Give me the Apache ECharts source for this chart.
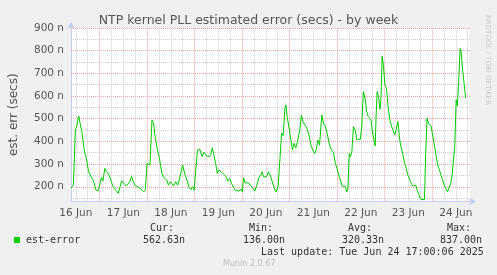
<!DOCTYPE html>
<html><head><meta charset="utf-8">
<script src="https://cdn.jsdelivr.net/npm/echarts@6/dist/echarts.min.js"></script>
<style>html,body{margin:0;padding:0;background:#f0f0f0}#c{width:497px;height:275px}</style>
</head><body><div id="c"></div>
<script>
// hours since 16 Jun 2025 00:00
const hours = [9.6,10.8,11.8,12.5,13.5,14.2,15.2,16.3,17.5,18.5,19.7,20.8,22.2,23.3,24.3,25,25.7,26.7,27.7,28.8,30,31,32.2,33.5,34.2,35.2,36.3,37.5,38.5,39.3,40.2,40.8,41.8,42.8,43.8,45.2,46.3,47.2,48,48.8,49.5,50.5,51.3,52.2,53.3,54.3,55.5,56.5,57.2,58,58.8,59.8,60.5,61.5,62.5,63.5,64.3,65.2,66,67.2,68.2,69.2,70.2,71,71.8,72.7,73.5,74.7,75.8,76.8,77.7,78.5,79.3,80.2,81,81.8,82.7,83.5,84.3,85.5,86.8,88,88.8,89.8,90.7,91.5,92.5,93.5,94.5,95.5,96.2,96.8,97.5,98.5,99.5,100.5,101.5,102.5,103.5,104.5,105.5,106.2,106.8,107.7,108.5,109.3,110.2,111.2,112.2,113.2,114.2,115.2,116,116.8,117.7,118.2,118.8,119.8,120.7,121.5,122.3,123.2,124.2,125.2,126,126.8,127.8,128.8,129.8,131,131.8,132.7,133.5,134.3,135.2,136.3,137.2,138.2,139.2,140.2,141.2,142.2,143.2,144,144.8,145.7,146.5,147.3,148.2,149,149.5,150.2,150.8,151.5,152.3,153.2,154,154.8,155.8,156.5,157.3,158.2,159,159.8,160.7,161.2,161.8,162.7,163.3,163.8,164.3,165,165.7,166.2,166.8,167.5,168.2,169,169.8,170.7,171.5,172.3,173.2,174,174.8,175.7,176.5,177.3,178.2,179,179.8,180.7,181.5,182.3,183.2,183.8,184.5,185.2,185.8,186.5,187.3,188.2,188.8,189.5,190.2,190.8,191.5,192.3,193.2,194,194.8,195.7,196.5,197.3,198.2,199,199.8,200.7,201.5,202.2,202.8,203.5,204.2,204.8,205.5,206.2,206.7,207.3,208.2,209];
// est-error in nanoseconds
const estError = [193,207,450,465,512,480,436,362,318,266,244,230,185,182,174,241,225,281,266,252,222,197,185,171,166,226,215,203,207,222,247,230,207,212,197,188,178,188,303,306,296,494,483,414,362,325,259,241,247,230,207,222,230,203,222,207,230,226,296,252,230,197,188,200,185,182,362,365,333,352,340,342,332,342,372,340,303,259,274,266,254,244,225,237,215,207,185,193,181,190,178,240,219,222,215,210,193,181,207,240,252,266,244,252,244,266,252,225,196,178,200,325,436,426,546,561,510,458,406,362,392,372,406,450,516,487,472,458,428,377,362,347,362,406,384,516,480,465,428,384,362,352,303,281,252,230,204,200,200,178,193,347,333,355,465,450,409,403,409,465,619,590,531,509,509,494,450,406,380,524,619,597,541,583,777,730,649,634,553,494,468,476,428,428,487,406,369,340,303,281,252,232,215,203,200,207,185,171,156,144,141,144,347,502,480,476,468,428,384,340,300,276,252,232,207,193,178,171,215,256,252,377,583,557,671,810,800,730,656,590];
const dayLabels = ['16 Jun','17 Jun','18 Jun','19 Jun','20 Jun','21 Jun','22 Jun','23 Jun','24 Jun'];
const dayLabelHours = [12,36,60,84,108,132,156,180,204];
const yTicks = [200,300,400,500,600,700,800,900];
const yMinorGrid = [150,250,350,450,550,650,750,850];
const xMajorGrid = [24,48,72,96,120,144,168,192];
const xMinorGrid = [12,18,30,36,42,54,60,66,78,84,90,102,108,114,126,132,138,150,156,162,174,180,186,198,204,210];
const stats = {cur:'562.63n', min:'136.00n', avg:'320.33n', max:'837.00n'};
const lastUpdate = 'Last update: Tue Jun 24 17:00:06 2025';

const data = hours.map((h,i)=>[h, estError[i]]);
const mono = "'DejaVu Sans Mono', monospace";
const sans = "'DejaVu Sans', sans-serif";
const axisCol = '#c4ccf2';
const majorCol = '#f0a0a0';
const minorCol = '#cccccc';

function ml(arr, key, color){
  return arr.map(v=>({[key]:v, lineStyle:{color:color, type:[1,1], width:1}}));
}

const chart = echarts.init(document.getElementById('c'), null, {renderer:'canvas'});
chart.setOption({
  backgroundColor:'#f0f0f0',
  animation:false,
  title:{text:'NTP kernel PLL estimated error (secs) - by week', left:'center', top:9,
    textStyle:{fontFamily:sans, fontSize:12.5, fontWeight:'normal', color:'#555'}},
  grid:{left:67, right:27, top:28, bottom:73.5, show:true, backgroundColor:'#ffffff', borderWidth:0},
  xAxis:{type:'value', min:9.6, max:211.2,
    axisLine:{show:true, lineStyle:{color:axisCol, width:1}, symbol:['none','arrow'], symbolSize:[6,7], symbolOffset:[0,6]},
    axisTick:{show:false}, splitLine:{show:false},
    axisLabel:{customValues:dayLabelHours, formatter:(v)=>dayLabels[dayLabelHours.indexOf(v)]||'', fontFamily:sans, fontSize:10.5, color:'#555', margin:6}},
  yAxis:{type:'value', min:135, max:900, name:'est. err (secs)', nameLocation:'middle', nameGap:51, nameRotate:90,
    nameTextStyle:{fontFamily:sans, fontSize:12, color:'#555'},
    axisLine:{show:true, lineStyle:{color:axisCol, width:1}, symbol:['none','arrow'], symbolSize:[6,7], symbolOffset:[0,6]},
    axisTick:{show:false}, splitLine:{show:false},
    axisLabel:{customValues:yTicks, formatter:(v)=>v+' n', fontFamily:sans, fontSize:10.5, color:'#555', margin:7}},
  legend:{data:['est-error'], left:9, top:230, icon:'rect', itemWidth:6, itemHeight:6, itemGap:0,
    textStyle:{fontFamily:mono, fontSize:10, color:'#333', padding:[0,0,0,1]}},
  series:[
    {name:'grid', type:'line', data:[], silent:true, z:1,
      markLine:{silent:true, symbol:['none','none'], label:{show:false}, animation:false,
        data:[].concat(ml(yMinorGrid,'yAxis',minorCol), ml(xMinorGrid,'xAxis',minorCol), ml(yTicks,'yAxis',majorCol), ml(xMajorGrid,'xAxis',majorCol))}},
    {name:'est-error', type:'line', data:data, z:5, showSymbol:false, symbol:'none',
      lineStyle:{color:'#00cc00', width:1}, itemStyle:{color:'#00cc00'}}
  ],
  graphic:[
    {type:'text', left:150, top:223, style:{text:'Cur:', font:'10px '+mono, fill:'#333'}},
    {type:'text', left:249, top:223, style:{text:'Min:', font:'10px '+mono, fill:'#333'}},
    {type:'text', left:348, top:223, style:{text:'Avg:', font:'10px '+mono, fill:'#333'}},
    {type:'text', left:447, top:223, style:{text:'Max:', font:'10px '+mono, fill:'#333'}},
    {type:'text', left:143, top:235, style:{text:stats.cur, font:'10px '+mono, fill:'#333'}},
    {type:'text', left:243, top:235, style:{text:stats.min, font:'10px '+mono, fill:'#333'}},
    {type:'text', left:342, top:235, style:{text:stats.avg, font:'10px '+mono, fill:'#333'}},
    {type:'text', left:440, top:235, style:{text:stats.max, font:'10px '+mono, fill:'#333'}},
    {type:'text', left:261, top:247, style:{text:lastUpdate, font:'10px '+mono, fill:'#333'}},
    {type:'text', left:223, top:260, style:{text:'Munin 2.0.67', font:'8px '+sans, fill:'#bbb'}},
    {type:'text', x:491, y:15, rotation:-Math.PI/2, style:{text:'RRDTOOL / TOBI OETIKER', font:'7px '+sans, fill:'#c8c8c8'}}
  ]
});
</script></body></html>
